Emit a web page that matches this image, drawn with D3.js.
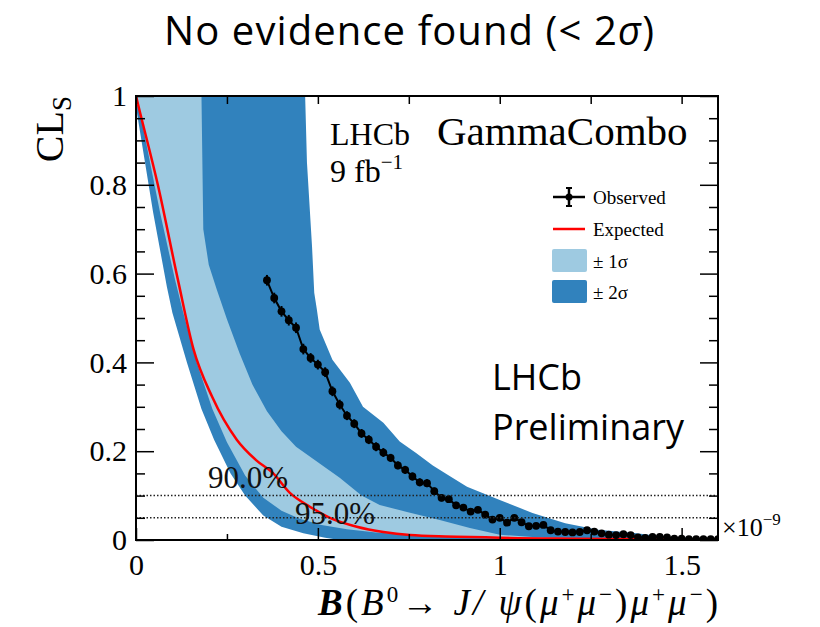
<!DOCTYPE html>
<html>
<head>
<meta charset="utf-8">
<script src="https://cdn.jsdelivr.net/npm/d3@7"></script>
<style>
  body { margin: 0; background: #fff; }
  svg { display: block; }
</style>
</head>
<body>
<script>
// expected CLs (red line)
let expX = [0, 0.012, 0.06, 0.115, 0.158, 0.209, 0.277, 0.33, 0.376, 0.423, 0.478, 0.533, 0.607, 0.68, 0.753, 0.85, 0.92, 1.0, 1.2, 1.4, 1.6]
let expY = [1, 0.96, 0.8, 0.587, 0.43, 0.323, 0.226, 0.18, 0.151, 0.106, 0.075, 0.05, 0.03, 0.018, 0.011, 0.008, 0.007, 0.005, 0.003, 0.002, 0.001]

// +-2 sigma band edges
let lo2X = [0, 0.003, 0.047, 0.085, 0.10, 0.14, 0.18, 0.215, 0.26, 0.30, 0.35, 0.40, 0.46, 0.52, 0.56, 1.6]
let lo2Y = [1, 0.96, 0.738, 0.57, 0.512, 0.40, 0.295, 0.225, 0.15, 0.10, 0.055, 0.03, 0.015, 0.005, 0, 0]
let hi2X = [0, 0.465, 0.47, 0.484, 0.49, 0.497, 0.505, 0.54, 0.588, 0.624, 0.68, 0.725, 0.77, 0.816, 0.86, 0.91, 1.0, 1.09, 1.18, 1.27, 1.37, 1.46, 1.55, 1.6]
let hi2Y = [1, 1, 0.85, 0.66, 0.557, 0.52, 0.474, 0.406, 0.354, 0.30, 0.264, 0.222, 0.196, 0.168, 0.145, 0.12, 0.09, 0.061, 0.038, 0.023, 0.016, 0.007, 0.004, 0.003]

// +-1 sigma band edges
let lo1X = [0, 0.012, 0.066, 0.107, 0.13, 0.167, 0.21, 0.25, 0.30, 0.35, 0.40, 0.45, 0.51, 0.58, 0.66, 0.75, 0.85, 1.0, 1.2, 1.6]
let lo1Y = [1, 0.96, 0.738, 0.587, 0.512, 0.40, 0.295, 0.22, 0.145, 0.095, 0.066, 0.048, 0.034, 0.024, 0.017, 0.012, 0.008, 0.004, 0.002, 0.001]
let hi1X = [0, 0.18, 0.185, 0.2, 0.222, 0.25, 0.285, 0.32, 0.36, 0.40, 0.44, 0.50, 0.56, 0.62, 0.67, 0.745, 0.835, 0.918, 1.0, 1.1, 1.3, 1.6]
let hi1Y = [1, 1, 0.70, 0.62, 0.564, 0.497, 0.42, 0.35, 0.29, 0.245, 0.21, 0.175, 0.14, 0.10, 0.079, 0.063, 0.045, 0.027, 0.012, 0.006, 0.003, 0.001]

// observed scan points
let obsX = [0.36, 0.38, 0.40, 0.42, 0.44, 0.46, 0.48, 0.50, 0.52, 0.54, 0.56, 0.58, 0.60, 0.62, 0.64, 0.66, 0.68, 0.70, 0.72, 0.74, 0.76,
    0.78, 0.80, 0.82, 0.84, 0.86, 0.88, 0.90, 0.92, 0.94, 0.96, 0.98, 1.00, 1.02, 1.04, 1.06, 1.08, 1.10, 1.12, 1.14, 1.16, 1.18,
    1.20, 1.22, 1.24, 1.26, 1.28, 1.30, 1.32, 1.34, 1.36, 1.38, 1.40, 1.42, 1.44, 1.46, 1.48, 1.50, 1.52, 1.54, 1.56, 1.58, 1.60]
let obsY = [0.585, 0.545, 0.515, 0.495, 0.478, 0.43, 0.41, 0.395, 0.378, 0.335, 0.305, 0.28, 0.262, 0.24, 0.226, 0.21, 0.197, 0.185, 0.168, 0.158, 0.143,
    0.13, 0.128, 0.11, 0.095, 0.092, 0.078, 0.073, 0.064, 0.068, 0.057, 0.046, 0.05, 0.039, 0.05, 0.04, 0.031, 0.032, 0.034, 0.022, 0.019, 0.018,
    0.017, 0.018, 0.022, 0.019, 0.015, 0.012, 0.011, 0.013, 0.011, 0.006, 0.005, 0.007, 0.007, 0.006, 0.003, 0.003, 0.002, 0.002, 0.002, 0.002, 0.002]
let obsErr = [0.012, 0.012, 0.012, 0.012, 0.012, 0.012, 0.011, 0.011, 0.011, 0.011, 0.011, 0.010, 0.010, 0.010, 0.010, 0.010, 0.010, 0.009, 0.009, 0.009, 0.009,
    0.009, 0.009, 0.008, 0.008, 0.008, 0.008, 0.007, 0.007, 0.007, 0.007, 0.006, 0.006, 0.006, 0.006, 0.006, 0.005, 0.005, 0.005, 0.005, 0.004, 0.004,
    0.004, 0.004, 0.004, 0.004, 0.003, 0.003, 0.003, 0.003, 0.003, 0.002, 0.002, 0.002, 0.002, 0.002, 0.002, 0.002, 0.001, 0.001, 0.001, 0.001, 0.001]

let clLevels = [0.1, 0.05]
let clLabels = ["90.0%", "95.0%"]
let xMajor = [0, 0.5, 1, 1.5]
let xMinor = [0.25, 0.75, 1.25]
let yMajor = [0, 0.2, 0.4, 0.6, 0.8, 1]
let yMinor = [0.05, 0.1, 0.15, 0.25, 0.3, 0.35, 0.45, 0.5, 0.55, 0.65, 0.7, 0.75, 0.85, 0.9, 0.95]

let W = 820
let H = 627
let pL = 136, pT = 96, pR = 718, pB = 540

let serif = "'Liberation Serif', 'Times New Roman', serif"
let sans = "'Open Sans', Lato, sans-serif"
let dark = "#3182bd"
let light = "#9ecae1"

let svg = d3.select("body")
    .append("svg")
    .attr("width", W)
    .attr("height", H)

let x = d3.scaleLinear().domain([0, 1.6]).range([pL, pR])
let y = d3.scaleLinear().domain([0, 1]).range([pB, pT])

svg.append("defs").append("clipPath")
    .attr("id", "plot")
    .append("rect")
    .attr("x", pL).attr("y", pT)
    .attr("width", pR - pL).attr("height", pB - pT)

let zip = (a, b) => a.map((v, i) => [v, b[i]])
let line = d3.line().x(d => x(d[0])).y(d => y(d[1]))

let plot = svg.append("g").attr("clip-path", "url(#plot)")

// bands as closed polygons: lower edge forward, upper edge back
let band2 = zip(lo2X, lo2Y).concat(zip(hi2X, hi2Y).reverse())
let band1 = zip(lo1X, lo1Y).concat(zip(hi1X, hi1Y).reverse())

plot.append("path").attr("d", line(band2) + "Z").attr("fill", dark)
plot.append("path").attr("d", line(band1) + "Z").attr("fill", light)

let smooth = d3.line().x(d => x(d[0])).y(d => y(d[1])).curve(d3.curveMonotoneX)
plot.append("path")
    .attr("d", smooth(zip(expX, expY)))
    .attr("fill", "none")
    .attr("stroke", "#ff0000")
    .attr("stroke-width", 2.5)

// CL reference lines
svg.selectAll(".cl")
    .data(clLevels)
    .enter()
    .append("line")
    .attr("class", "cl")
    .attr("x1", x(0)).attr("x2", x(1.6))
    .attr("y1", d => y(d)).attr("y2", d => y(d))
    .attr("stroke", "#222")
    .attr("stroke-width", 1.5)
    .attr("stroke-dasharray", "1.5,2")

// observed
let obs = zip(obsX, obsY)
plot.append("path")
    .attr("d", line(obs))
    .attr("fill", "none")
    .attr("stroke", "#000")
    .attr("stroke-width", 2)

let eb = plot.append("g").selectAll("g")
    .data(obs.map((d, i) => [d[0], d[1], obsErr[i]]))
    .enter()
    .append("g")
eb.append("line")
    .attr("x1", d => x(d[0])).attr("x2", d => x(d[0]))
    .attr("y1", d => y(d[1] - d[2])).attr("y2", d => y(d[1] + d[2]))
    .attr("stroke", "#000").attr("stroke-width", 2)
eb.append("circle")
    .attr("cx", d => x(d[0]))
    .attr("cy", d => y(d[1]))
    .attr("r", 3.9)
    .attr("fill", "#000")

// frame + ticks
let ax = svg.append("g")
    .attr("font-family", serif)

function styleAxis(g) {
    g.select(".domain").remove()
    g.selectAll("line").attr("stroke", "#000").attr("stroke-width", 1.5)
    g.selectAll("text").attr("fill", "#000").attr("font-family", serif).attr("font-size", 30)
}

ax.append("g")
    .attr("transform", "translate(" + pL + ",0)")
    .call(d3.axisLeft(y).tickValues(yMajor).tickFormat(d3.format("")).tickSize(-18).tickPadding(9))
    .call(styleAxis)
ax.append("g")
    .attr("transform", "translate(" + pL + ",0)")
    .call(d3.axisLeft(y).tickValues(yMinor).tickFormat("").tickSize(-9))
    .call(styleAxis)
ax.append("g")
    .attr("transform", "translate(" + pR + ",0)")
    .call(d3.axisRight(y).tickValues(yMajor).tickFormat("").tickSize(-18))
    .call(styleAxis)
ax.append("g")
    .attr("transform", "translate(" + pR + ",0)")
    .call(d3.axisRight(y).tickValues(yMinor).tickFormat("").tickSize(-9))
    .call(styleAxis)
ax.append("g")
    .attr("transform", "translate(0," + pB + ")")
    .call(d3.axisBottom(x).tickValues(xMajor).tickFormat(d3.format("")).tickSize(-12).tickPadding(14))
    .call(styleAxis)
ax.append("g")
    .attr("transform", "translate(0," + pB + ")")
    .call(d3.axisBottom(x).tickValues(xMinor).tickFormat("").tickSize(-6))
    .call(styleAxis)
ax.append("g")
    .attr("transform", "translate(0," + pT + ")")
    .call(d3.axisTop(x).tickValues(xMajor.concat(xMinor)).tickFormat("").tickSize(-8))
    .call(styleAxis)

svg.append("rect")
    .attr("x", pL).attr("y", pT)
    .attr("width", pR - pL).attr("height", pB - pT)
    .attr("fill", "none")
    .attr("stroke", "#000")
    .attr("stroke-width", 2)

// CL labels
svg.selectAll(".cllab")
    .data(clLabels)
    .enter()
    .append("text")
    .attr("class", "cllab")
    .attr("x", (d, i) => i == 0 ? 208 : 295)
    .attr("y", (d, i) => y(clLevels[i]) - 8 + i * 14)
    .attr("font-family", serif)
    .attr("font-size", 31)
    .attr("fill", "#111")
    .text(d => d)

// title
let title = svg.append("text")
    .attr("x", 409).attr("y", 45)
    .attr("text-anchor", "middle")
    .attr("font-family", sans)
    .attr("font-size", 40)
    .attr("textLength", 490)
    .attr("lengthAdjust", "spacing")
title.append("tspan").text("No evidence found (< 2")
title.append("tspan").attr("font-style", "italic").text("σ")
title.append("tspan").text(")")

// LHCb Preliminary
svg.append("text")
    .attr("x", 492).attr("y", 390)
    .attr("font-family", sans).attr("font-size", 36)
    .text("LHCb")
svg.append("text")
    .attr("x", 492).attr("y", 440)
    .attr("font-family", sans).attr("font-size", 36)
    .text("Preliminary")

// LHCb 9 fb-1 and GammaCombo
svg.append("text")
    .attr("x", 330).attr("y", 145)
    .attr("font-family", serif).attr("font-size", 32)
    .text("LHCb")
let lumi = svg.append("text")
    .attr("x", 330).attr("y", 182)
    .attr("font-family", serif).attr("font-size", 32)
lumi.append("tspan").text("9 fb")
lumi.append("tspan").attr("font-size", 21).attr("dy", -13).text("−1")

svg.append("text")
    .attr("x", 437).attr("y", 145)
    .attr("font-family", serif).attr("font-size", 41)
    .text("GammaCombo")

// legend
let lg = svg.append("g").attr("font-family", serif).attr("font-size", 19)
lg.append("line").attr("x1", 553).attr("x2", 585).attr("y1", 197).attr("y2", 197)
    .attr("stroke", "#000").attr("stroke-width", 2.5)
lg.append("line").attr("x1", 569).attr("x2", 569).attr("y1", 188).attr("y2", 206)
    .attr("stroke", "#000").attr("stroke-width", 2.5)
lg.append("line").attr("x1", 566).attr("x2", 572).attr("y1", 188).attr("y2", 188)
    .attr("stroke", "#000").attr("stroke-width", 2)
lg.append("line").attr("x1", 566).attr("x2", 572).attr("y1", 206).attr("y2", 206)
    .attr("stroke", "#000").attr("stroke-width", 2)
lg.append("circle").attr("cx", 569).attr("cy", 197).attr("r", 3.5).attr("fill", "#000")
lg.append("text").attr("x", 593).attr("y", 204).text("Observed")

lg.append("line").attr("x1", 553).attr("x2", 585).attr("y1", 229).attr("y2", 229)
    .attr("stroke", "#ff0000").attr("stroke-width", 2.5)
lg.append("text").attr("x", 593).attr("y", 236).text("Expected")

lg.append("rect").attr("x", 552).attr("y", 249).attr("width", 35).attr("height", 23)
    .attr("rx", 2).attr("fill", light)
lg.append("text").attr("x", 593).attr("y", 268).text("± 1σ")
lg.append("rect").attr("x", 552).attr("y", 280).attr("width", 35).attr("height", 23)
    .attr("rx", 2).attr("fill", dark)
lg.append("text").attr("x", 593).attr("y", 299).text("± 2σ")

// axis titles
let yt = svg.append("text")
    .attr("transform", "translate(63," + pT + ") rotate(-90)")
    .attr("text-anchor", "end")
    .attr("font-family", serif).attr("font-size", 40)
yt.append("tspan").text("CL")
yt.append("tspan").attr("font-size", 27).attr("dy", 8).text("S")

let xe = svg.append("text")
    .attr("x", 722).attr("y", 536)
    .attr("font-family", serif).attr("font-size", 26)
xe.append("tspan").text("×10")
xe.append("tspan").attr("font-size", 17).attr("dy", -11).text("−9")

let sup = 23
let xt = svg.append("text")
    .attr("x", 318).attr("y", 615)
    .attr("font-family", serif).attr("font-size", 37)
    .attr("textLength", 400)
    .attr("lengthAdjust", "spacing")
xt.append("tspan").attr("font-weight", "bold").attr("font-style", "italic").text("B")
xt.append("tspan").text("(")
xt.append("tspan").attr("font-style", "italic").text("B")
xt.append("tspan").attr("font-size", sup).attr("dy", -13).text("0")
xt.append("tspan").attr("dy", 13).text("→ ")
xt.append("tspan").attr("font-style", "italic").text("J/ ψ")
xt.append("tspan").text("(")
xt.append("tspan").attr("font-style", "italic").text("μ")
xt.append("tspan").attr("font-size", sup).attr("dy", -13).text("+")
xt.append("tspan").attr("font-style", "italic").attr("dy", 13).text("μ")
xt.append("tspan").attr("font-size", sup).attr("dy", -13).text("−")
xt.append("tspan").attr("dy", 13).text(")")
xt.append("tspan").attr("font-style", "italic").text("μ")
xt.append("tspan").attr("font-size", sup).attr("dy", -13).text("+")
xt.append("tspan").attr("font-style", "italic").attr("dy", 13).text("μ")
xt.append("tspan").attr("font-size", sup).attr("dy", -13).text("−")
xt.append("tspan").attr("dy", 13).text(")")
</script>
</body>
</html>
